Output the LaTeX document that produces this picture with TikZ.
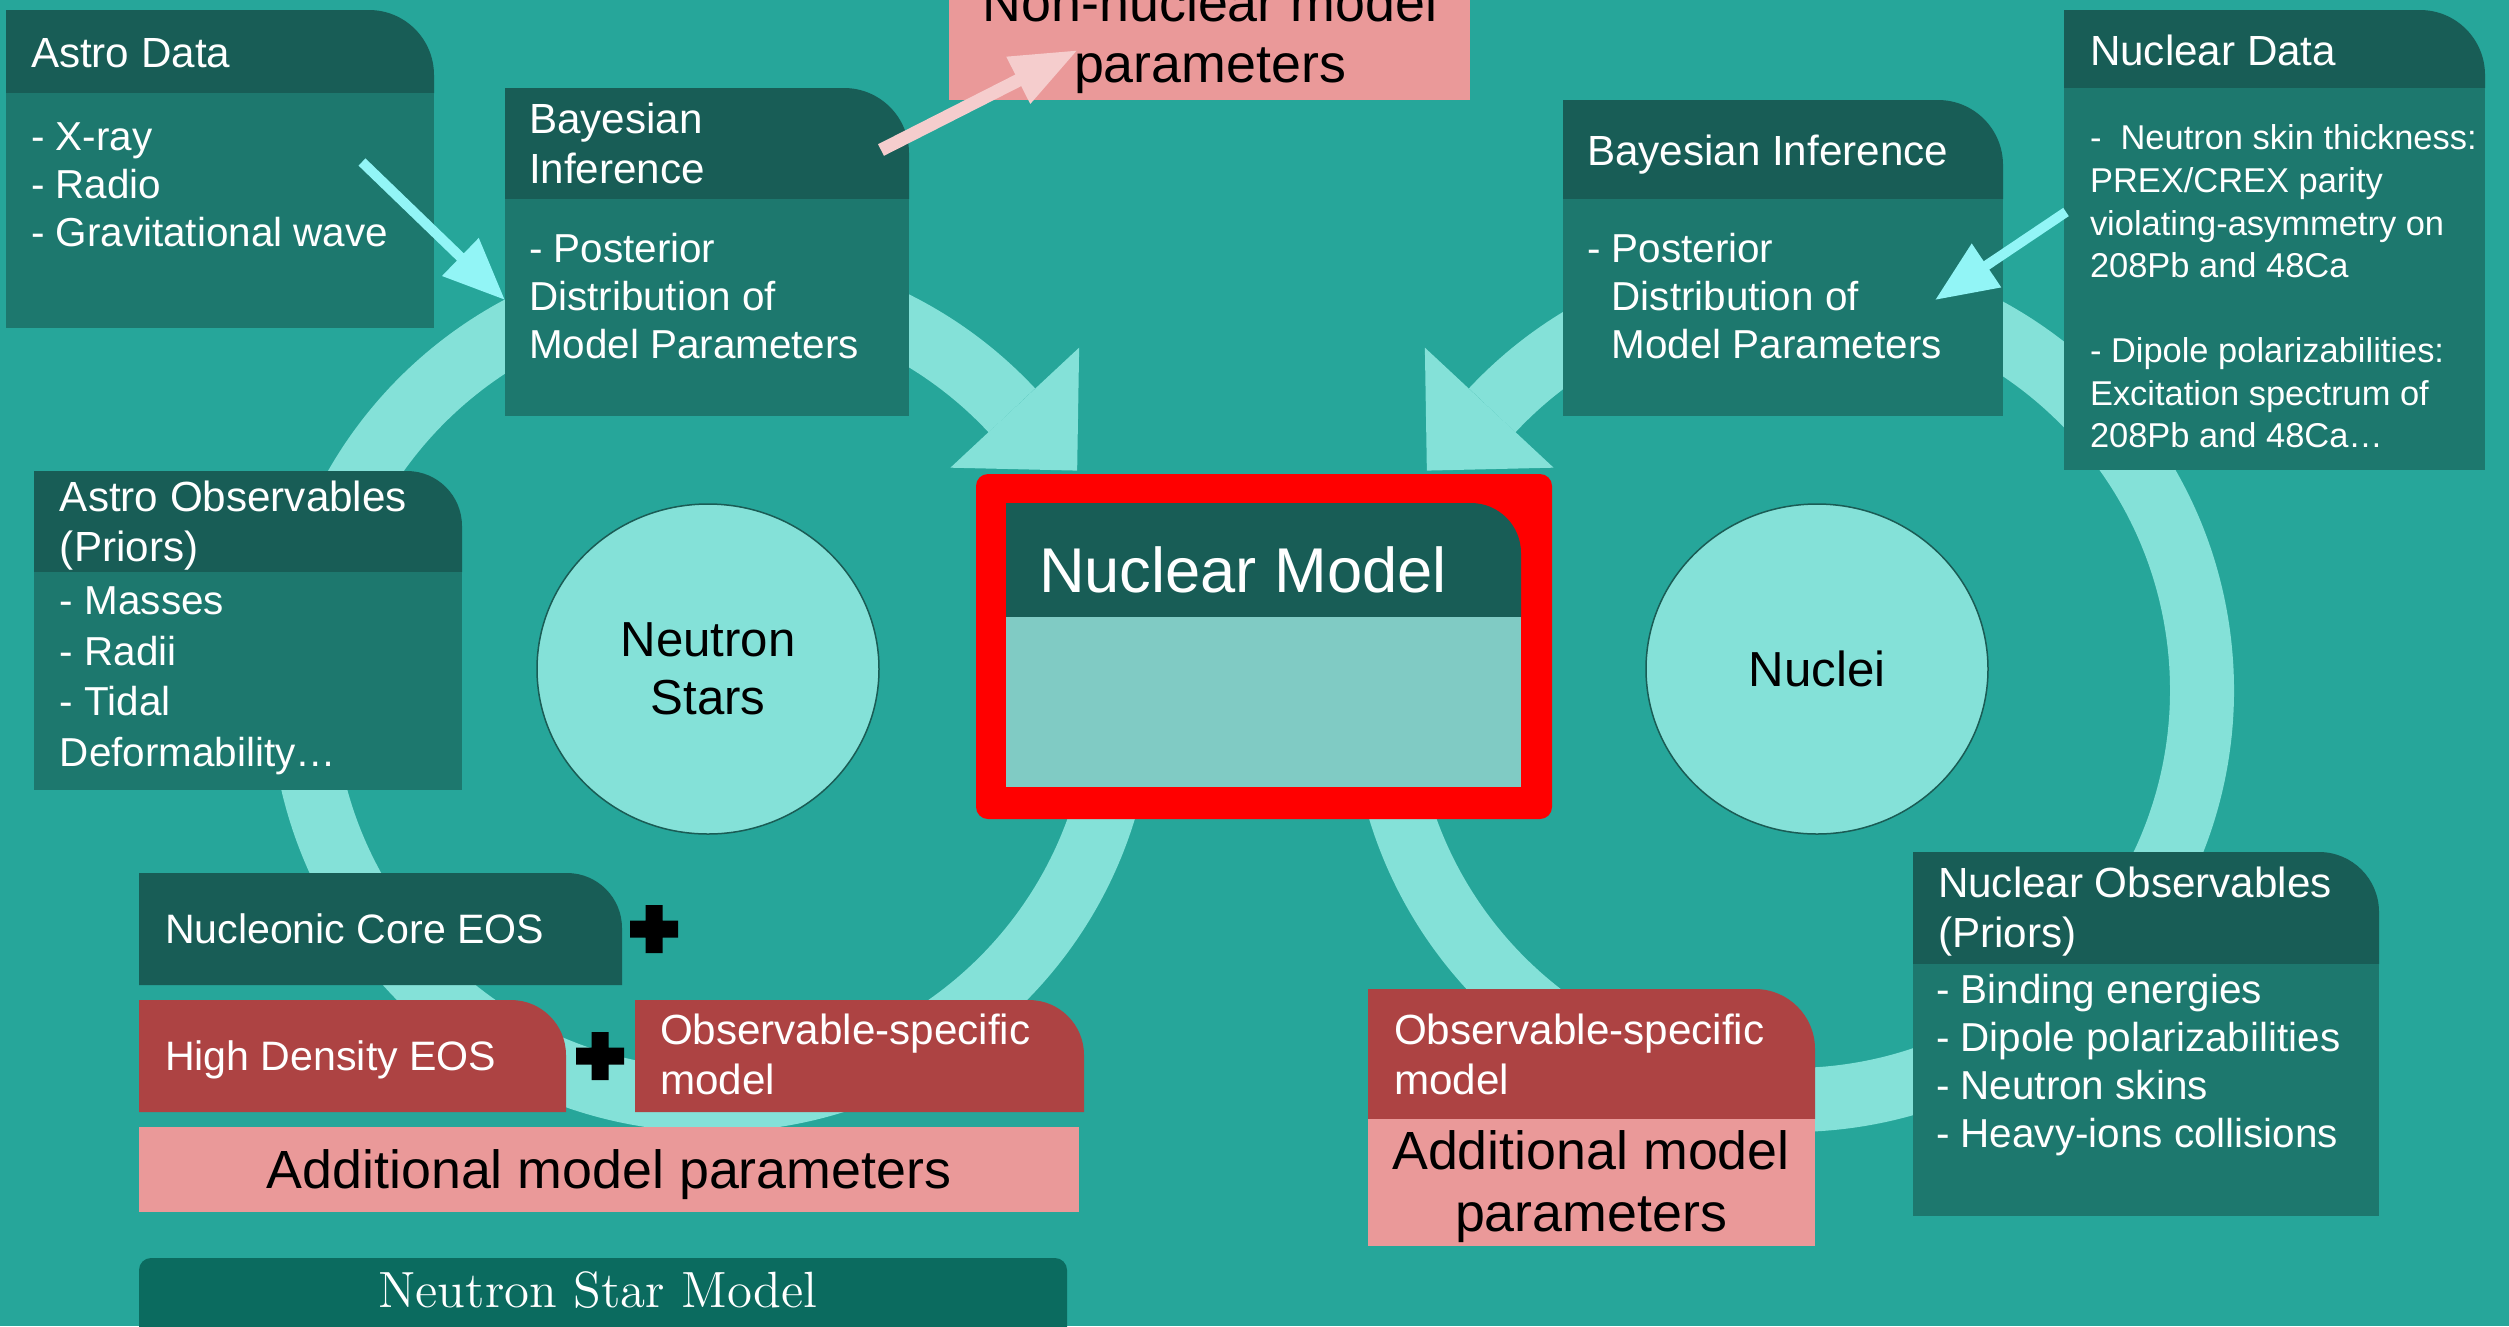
\documentclass[tikz,border=0pt]{standalone}
\usepackage{fontspec}
\newfontfamily\lsans{Liberation Sans}
\usetikzlibrary{shapes.geometric,arrows.meta,fit,calc}
\definecolor{bgc}{HTML}{26A69A}
\definecolor{hdr}{HTML}{185D56}
\definecolor{bodyc}{HTML}{1D786E}
\definecolor{ringc}{HTML}{84E1D8}
\definecolor{nmbody}{HTML}{80CBC4}
\definecolor{dred}{HTML}{AD4343}
\definecolor{pinkc}{HTML}{EA9999}
\definecolor{nsmc}{HTML}{0B6B5F}
\definecolor{cyanar}{HTML}{92F5F6}
\definecolor{pinkar}{HTML}{F5CDCD}
\definecolor{circline}{HTML}{1A5C55}
\newcommand\rtshape[3]{\fill[#2] (#1.south west) -- (#1.north west) -- ([xshift=-#3]#1.north east) arc[start angle=90,end angle=0,radius=#3] -- (#1.south east) -- cycle;}
\begin{document}
\begin{tikzpicture}[x=0.1mm,y=-0.1mm,
  shapebox/.style={inner sep=0pt,outer sep=0pt},
  txt/.style={inner sep=0pt,outer sep=0pt,text=white,align=left},
  hfont/.style={font=\lsans\fontsize{12}{14.2}\selectfont},
  bfont/.style={font=\lsans\fontsize{11.5}{13.66}\selectfont},
  ndfont/.style={font=\lsans\fontsize{9.8}{12.1}\selectfont},
  pfont/.style={font=\lsans\fontsize{15.3}{17.2}\selectfont},
  ringline/.style={draw=ringc,line width=6.4mm},
  circ/.style={ellipse,draw=circline,line width=0.15mm,fill=ringc,minimum width=34.2mm,minimum height=33mm,inner sep=0pt,align=center,font=\lsans\fontsize{14}{16.5}\selectfont,text=black},
  cyanarrow/.style={draw=cyanar,line width=1mm,-{Triangle[width=5mm,length=6.2mm]}},
  pinkarrow/.style={draw=pinkar,line width=1.3mm,-{Triangle[width=4.9mm,length=6.7mm]}}]
\useasboundingbox (0,0) rectangle (2509,1326);
\clip (0,0) rectangle (2509,1326);
\fill[bgc] (0,0) rectangle (2509,1326);

% cycle rings
\coordinate (LC) at (712,690);
\coordinate (RC) at (1792,690);
\draw[ringline] ($(LC)+(-5:41mm)$) arc[start angle=-5,end angle=-317,radius=41mm];
\fill[ringc] ($(LC)+(43:50.2mm)$) -- ($(LC)+(43:32.6mm)$) -- ($(LC)+(31:42.6mm)$) -- cycle;
\draw[ringline] ($(RC)+(185:41mm)$) arc[start angle=185,end angle=497,radius=41mm];
\fill[ringc] ($(RC)+(137:50.2mm)$) -- ($(RC)+(137:32.6mm)$) -- ($(RC)+(149:42.6mm)$) -- cycle;

% Astro Data
\node[shapebox,fit={(6,10)(434,93)}] (adh) {};
\rtshape{adh}{hdr}{6.5mm}
\node[shapebox,fit={(6,93)(434,328)},fill=bodyc] (adb) {};
% Bayesian left
\node[shapebox,fit={(505,88)(909,199)}] (blh) {};
\rtshape{blh}{hdr}{6.5mm}
\node[shapebox,fit={(505,199)(909,416)},fill=bodyc] (blb) {};
% Non-nuclear
\node[shapebox,fit={(949,-80)(1470,100)},fill=pinkc] (nn) {};
% Bayesian right
\node[shapebox,fit={(1563,100)(2003,199)}] (brh) {};
\rtshape{brh}{hdr}{6.5mm}
\node[shapebox,fit={(1563,199)(2003,416)},fill=bodyc] (brb) {};
% Nuclear Data
\node[shapebox,fit={(2064,10)(2485,88)}] (ndh) {};
\rtshape{ndh}{hdr}{6.5mm}
\node[shapebox,fit={(2064,88)(2485,470)},fill=bodyc] (ndb) {};
% Astro observables
\node[shapebox,fit={(34,471)(462,572)}] (aoh) {};
\rtshape{aoh}{hdr}{5.5mm}
\node[shapebox,fit={(34,572)(462,790)},fill=bodyc] (aob) {};
% Nuclear model
\node[shapebox,fit={(976,474)(1552,819)},fill=red,rounded corners=1.2mm] (nmr) {};
\node[shapebox,fit={(1006,503)(1521,617)}] (nmh) {};
\rtshape{nmh}{hdr}{5mm}
\node[shapebox,fit={(1006,617)(1521,787)},fill=nmbody] (nmb) {};
% neutron star side boxes
\node[shapebox,fit={(139,873)(622,985)}] (nc) {};
\rtshape{nc}{hdr}{5.5mm}
\node[shapebox,fit={(139,1000)(566,1112)}] (hd) {};
\rtshape{hd}{dred}{5.5mm}
\node[shapebox,fit={(635,1000)(1084,1112)}] (osl) {};
\rtshape{osl}{dred}{5.5mm}
\node[shapebox,fit={(139,1127)(1079,1212)},fill=pinkc] (amp) {};
\node[shapebox,fit={(139,1258)(1067,1400)},fill=nsmc,rounded corners=1.2mm] (nsm) {};
\fill[black] (630,920.5) rectangle (678,937.5) (645.5,905) rectangle (662.5,953);
\fill[black] (576,1047.5) rectangle (624,1064.5) (591.5,1032) rectangle (608.5,1080);
% nuclei side boxes
\node[shapebox,fit={(1368,989)(1815,1119)}] (osr) {};
\rtshape{osr}{dred}{6mm}
\node[shapebox,fit={(1368,1119)(1815,1246)},fill=pinkc] (amr) {};
\node[shapebox,fit={(1913,852)(2379,964)}] (noh) {};
\rtshape{noh}{hdr}{6mm}
\node[shapebox,fit={(1913,964)(2379,1216)},fill=bodyc] (nob) {};

% circles
\node[circ] (ns) at (708,669) {Neutron\\Stars};
\node[circ] (nuc) at (1817,669) {Nuclei};

% texts
\node[txt,hfont,anchor=base west] (adht) at (31,67) {Astro Data};
\node[txt,bfont,anchor=north west] (adbt) at (31,123) {- X-ray\\- Radio\\- Gravitational wave};
\node[txt,font=\lsans\fontsize{12}{14.2}\selectfont,anchor=north west] (blht) at (529,103) {Bayesian\\Inference};
\node[txt,bfont,anchor=north west] (blbt) at (529,233) {- Posterior\\Distribution of\\Model Parameters};
\node[txt,pfont,text=black,align=center,anchor=north] (nnt) at (1210,-17) {Non-nuclear model\\parameters};
\node[txt,hfont,anchor=base west] (brht) at (1587,165) {Bayesian Inference};
\node[txt,bfont,anchor=north west] (brbt) at (1587,233) {- Posterior\\\phantom{- }Distribution of\\\phantom{- }Model Parameters};
\node[txt,hfont,anchor=base west] (ndht) at (2090,65) {Nuclear Data};
\node[txt,ndfont,anchor=north west] (ndbt) at (2090,125) {-\ \ Neutron skin thickness:\\PREX/CREX parity\\violating-asymmetry on\\208Pb and 48Ca\\\mbox{}\\- Dipole polarizabilities:\\Excitation spectrum of\\208Pb and 48Ca…};
\node[txt,hfont,anchor=north west] (aoht) at (60,481) {Astro Observables\\(Priors)};
\node[txt,font=\lsans\fontsize{11.5}{14.37}\selectfont,anchor=north west] (aobt) at (60,587) {- Masses\\- Radii\\- Tidal\\Deformability…};
\node[txt,font=\lsans\fontsize{18}{21}\selectfont,anchor=base west] (nmt) at (1039,592) {Nuclear Model};
\node[txt,font=\lsans\fontsize{11.7}{14}\selectfont,anchor=base west] (nct) at (165,943) {Nucleonic Core EOS};
\node[txt,font=\lsans\fontsize{11.7}{14}\selectfont,anchor=base west] (hdt) at (165,1070) {High Density EOS};
\node[txt,hfont,anchor=north west] (oslt) at (660,1014) {Observable-specific\\model};
\node[txt,pfont,text=black,anchor=base] (ampt) at (609,1188) {Additional model parameters};
\node[txt,font=\fontsize{14.5}{17}\selectfont,anchor=base] (nsmt) at (598,1307) {Neutron Star Model};
\node[txt,hfont,anchor=north west] (osrt) at (1394,1014) {Observable-specific\\model};
\node[txt,font=\lsans\fontsize{15.3}{17.4}\selectfont,text=black,align=center,anchor=north] (amrt) at (1591,1131) {Additional model\\parameters};
\node[txt,hfont,anchor=north west] (noht) at (1938,867) {Nuclear Observables\\(Priors)};
\node[txt,bfont,anchor=north west] (nobt) at (1936,974) {- Binding energies\\- Dipole polarizabilities\\- Neutron skins\\- Heavy-ions collisions};

% arrows
\draw[cyanarrow] ([xshift=-7.2mm,yshift=4.85mm]adb.east) -- ([yshift=0.75mm]blb.west);
\draw[pinkarrow] ([xshift=-2.8mm,yshift=-0.65mm]blh.east) -- ([xshift=12.9mm,yshift=5mm]nn.south west);
\draw[cyanarrow] ([xshift=0.2mm,yshift=6.7mm]ndb.west) -- ([xshift=-6.8mm,yshift=0.75mm]brb.east);
\end{tikzpicture}
\end{document}
